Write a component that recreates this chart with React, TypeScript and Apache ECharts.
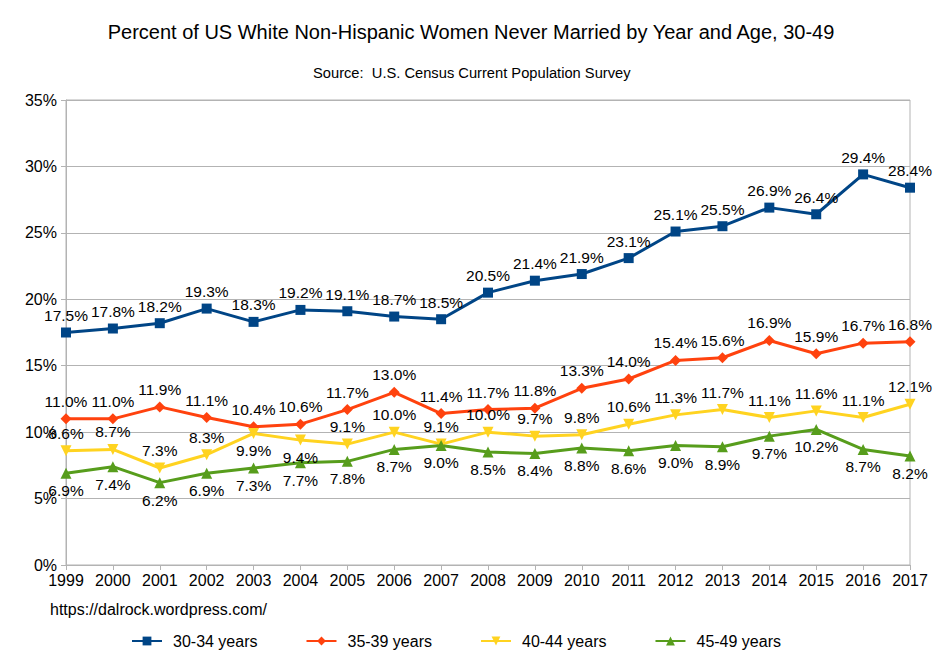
import React, { useEffect, useRef } from "react";
import * as echarts from "echarts";

const years = ["1999","2000","2001","2002","2003","2004","2005","2006","2007","2008","2009","2010","2011","2012","2013","2014","2015","2016","2017"];
const age3034 = [17.5, 17.8, 18.2, 19.3, 18.3, 19.2, 19.1, 18.7, 18.5, 20.5, 21.4, 21.9, 23.1, 25.1, 25.5, 26.9, 26.4, 29.4, 28.4];
const age3539 = [11.0, 11.0, 11.9, 11.1, 10.4, 10.6, 11.7, 13.0, 11.4, 11.7, 11.8, 13.3, 14.0, 15.4, 15.6, 16.9, 15.9, 16.7, 16.8];
const age4044 = [8.6, 8.7, 7.3, 8.3, 9.9, 9.4, 9.1, 10.0, 9.1, 10.0, 9.7, 9.8, 10.6, 11.3, 11.7, 11.1, 11.6, 11.1, 12.1];
const age4549 = [6.9, 7.4, 6.2, 6.9, 7.3, 7.7, 7.8, 8.7, 9.0, 8.5, 8.4, 8.8, 8.6, 9.0, 8.9, 9.7, 10.2, 8.7, 8.2];
const seriesNames = ["30-34 years", "35-39 years", "40-44 years", "45-49 years"];
// years whose 40-44 label sits below the point
const below4044 = ["2003", "2004"];

const FONT = "Liberation Sans";

export default function App() {
  const ref = useRef<HTMLDivElement>(null);
  useEffect(() => {
    if (!ref.current) return;
    const chart = echarts.init(ref.current, undefined, { renderer: "svg" });
    const labelStyle = {
      show: true,
      fontFamily: FONT,
      fontSize: 15.5,
      color: "#000",
      formatter: (p: any) => Number(p.value).toFixed(1) + "%",
    };
    const mk = (name: string, data: number[], color: string, symbol: string, rotate: number, pos: string, size: number) => ({
      name,
      type: "line",
      data: data.map((v, i) => {
        if (name === seriesNames[2] && below4044.includes(years[i])) {
          return { value: v, label: { position: "bottom" } };
        }
        return v;
      }),
      symbol,
      symbolRotate: rotate,
      symbolSize: size,
      showAllSymbol: true,
      lineStyle: { color, width: 3 },
      itemStyle: { color },
      label: { ...labelStyle, position: pos, distance: 4 },
      emphasis: { disabled: true },
    });
    chart.setOption({
      animation: false,
      title: [
        {
          text: "Percent of US White Non-Hispanic Women Never Married by Year and Age, 30-49",
          left: "center",
          top: 17,
          textStyle: { fontFamily: FONT, fontSize: 20, fontWeight: "normal", color: "#000" },
        },
        {
          text: "Source:  U.S. Census Current Population Survey",
          left: 308,
          top: 60,
          textStyle: { fontFamily: FONT, fontSize: 14.7, fontWeight: "normal", color: "#000" },
        },
        {
          text: "https://dalrock.wordpress.com/",
          left: 45,
          top: 596,
          textStyle: { fontFamily: FONT, fontSize: 16, fontWeight: "normal", color: "#000" },
        },
      ],
      legend: {
        data: seriesNames,
        left: 126,
        top: 628,
        itemWidth: 30,
        itemHeight: 11,
        itemGap: 48,
        textStyle: { fontFamily: FONT, fontSize: 16, color: "#000", padding: [0, 0, 0, 6] },
      },
      grid: {
        left: 66,
        right: 32,
        top: 100,
        bottom: 88,
        show: true,
        borderColor: "#b3b3b3",
        borderWidth: 1,
      },
      xAxis: {
        type: "category",
        data: years,
        boundaryGap: false,
        axisLine: { lineStyle: { color: "#b3b3b3" } },
        axisTick: { show: true, length: 5, lineStyle: { color: "#b3b3b3" } },
        axisLabel: { fontFamily: FONT, fontSize: 16, color: "#000", margin: 7 },
        splitLine: { show: false },
      },
      yAxis: {
        type: "value",
        min: 0,
        max: 35,
        interval: 5,
        axisLine: { show: true, lineStyle: { color: "#b3b3b3" } },
        axisTick: { show: true, length: 5, lineStyle: { color: "#b3b3b3" } },
        axisLabel: { fontFamily: FONT, fontSize: 16, color: "#000", margin: 9, formatter: "{value}%" },
        splitLine: { lineStyle: { color: "#b3b3b3" } },
      },
      series: [
        mk(seriesNames[0], age3034, "#004586", "rect", 0, "top", 10),
        mk(seriesNames[1], age3539, "#ff420e", "diamond", 0, "top", 11),
        mk(seriesNames[2], age4044, "#ffd320", "triangle", 180, "top", 11),
        mk(seriesNames[3], age4549, "#579d1c", "triangle", 0, "bottom", 11),
      ],
    });
    return () => chart.dispose();
  }, []);
  return <div ref={ref} style={{ width: 942, height: 653, position: "absolute", left: 0, top: 0 }} />;
}
